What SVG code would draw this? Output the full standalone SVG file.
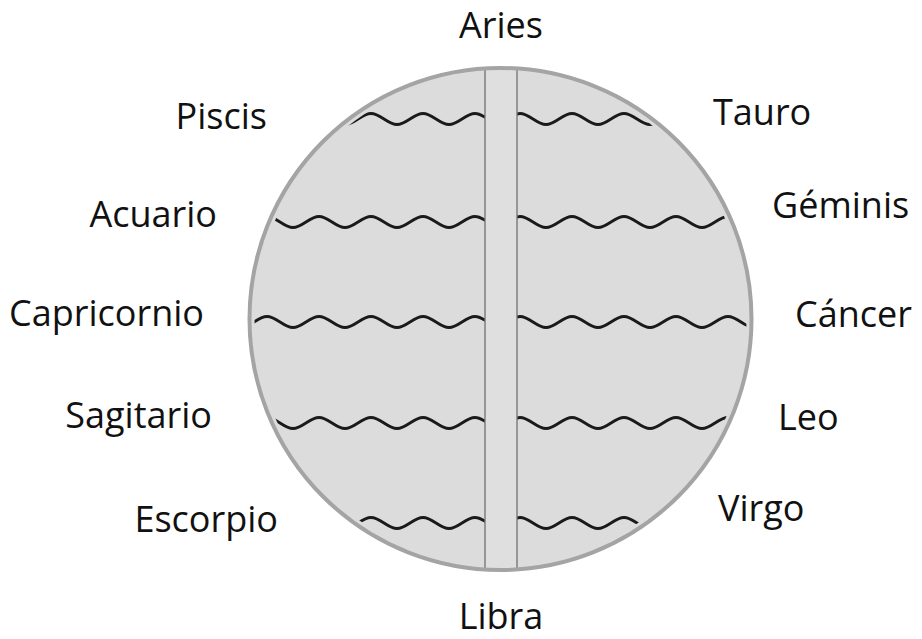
<svg xmlns="http://www.w3.org/2000/svg" xmlns:xlink="http://www.w3.org/1999/xlink" width="922" height="639" viewBox="0 0 922 639">
  <style>
    .lbl { font-family: "Open Sans", "Noto Sans", "Liberation Sans", sans-serif; font-size: 36px; fill: #111; }
    .wave { fill: none; stroke: #1a1a1a; stroke-width: 2.8; stroke-linecap: round; }
  </style>
  <defs>
    <clipPath id="circ"><circle cx="500.5" cy="319" r="246"/></clipPath>
    <clipPath id="leftc"><rect x="0" y="0" width="484.5" height="639"/></clipPath>
    <clipPath id="rightc"><rect x="517.5" y="0" width="404.5" height="639"/></clipPath>
    <path id="wl" d="M215,-5.5 c9.4,0 16.6,11 26,11 s16.6,-11 26,-11 s16.6,11 26,11 s16.6,-11 26,-11 s16.6,11 26,11 s16.6,-11 26,-11 s16.6,11 26,11 s16.6,-11 26,-11 s16.6,11 26,11 s16.6,-11 26,-11 s16.6,11 26,11"/>
    <path id="wr" d="M468,-5.5 c9.4,0 16.6,11 26,11 s16.6,-11 26,-11 s16.6,11 26,11 s16.6,-11 26,-11 s16.6,11 26,11 s16.6,-11 26,-11 s16.6,11 26,11 s16.6,-11 26,-11 s16.6,11 26,11 s16.6,-11 26,-11 s16.6,11 26,11 s16.6,-11 26,-11"/>
  </defs>

  <g id="disc">
    <circle cx="500.5" cy="319" r="251" fill="#dcdcdc"/>
    <rect x="485" y="68" width="32" height="502" fill="#dfdfdf" stroke="#7f7f7f" stroke-width="1.5"/>
    <circle cx="500.5" cy="319" r="251" fill="none" stroke="#a4a4a4" stroke-width="4"/>
  </g>

  <g id="connectors">
    <g clip-path="url(#circ)">
      <g clip-path="url(#leftc)" class="wave">
        <use xlink:href="#wl" transform="translate(0,119)"/>
        <use xlink:href="#wl" transform="translate(0,222)"/>
        <use xlink:href="#wl" transform="translate(0,322)"/>
        <use xlink:href="#wl" transform="translate(0,423)"/>
        <use xlink:href="#wl" transform="translate(0,523)"/>
      </g>
      <g clip-path="url(#rightc)" class="wave">
        <use xlink:href="#wr" transform="translate(0,119)"/>
        <use xlink:href="#wr" transform="translate(0,222)"/>
        <use xlink:href="#wr" transform="translate(0,322)"/>
        <use xlink:href="#wr" transform="translate(0,423)"/>
        <use xlink:href="#wr" transform="translate(0,523)"/>
      </g>
    </g>
  </g>

  <g id="aries"><text class="lbl" x="501" y="38" text-anchor="middle">Aries</text></g>
  <g id="libra"><text class="lbl" x="501" y="629" text-anchor="middle">Libra</text></g>
  <g id="piscis"><text class="lbl" x="267" y="129" text-anchor="end">Piscis</text></g>
  <g id="acuario"><text class="lbl" x="217" y="227" text-anchor="end">Acuario</text></g>
  <g id="capricornio"><text class="lbl" x="204" y="326" text-anchor="end">Capricornio</text></g>
  <g id="sagitario"><text class="lbl" x="212" y="428" text-anchor="end">Sagitario</text></g>
  <g id="escorpio"><text class="lbl" x="278" y="532" text-anchor="end">Escorpio</text></g>
  <g id="tauro"><text class="lbl" x="713" y="125" text-anchor="start">Tauro</text></g>
  <g id="geminis"><text class="lbl" x="772" y="218" text-anchor="start">Géminis</text></g>
  <g id="cancer"><text class="lbl" x="795" y="327" text-anchor="start">Cáncer</text></g>
  <g id="leo"><text class="lbl" x="778" y="430" text-anchor="start">Leo</text></g>
  <g id="virgo"><text class="lbl" x="718" y="521" text-anchor="start">Virgo</text></g>
</svg>
